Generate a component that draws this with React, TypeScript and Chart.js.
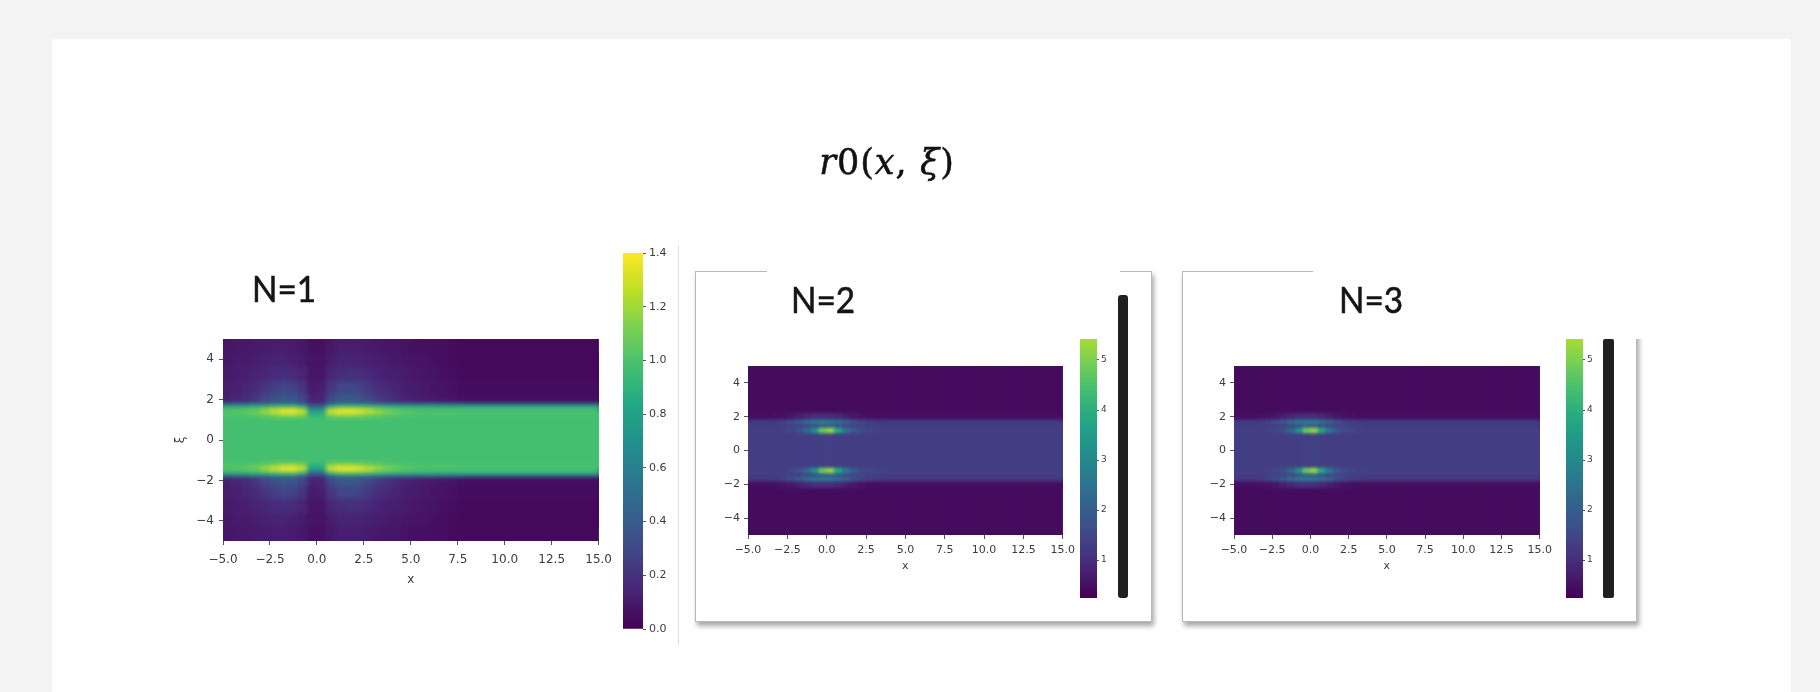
import React, { useEffect, useRef } from 'react';
import { Chart, registerables } from 'chart.js';

Chart.register(...registerables);

// ---------- data ----------
const X_CENTERS = [-4.75, -4.25, -3.75, -3.25, -2.75, -2.25, -1.75, -1.25, -0.75, -0.25, 0.25, 0.75, 1.25, 1.75, 2.25, 2.75, 3.25, 3.75, 4.25, 4.75, 5.25, 5.75, 6.25, 6.75, 7.25, 7.75, 8.25, 8.75, 9.25, 9.75, 10.25, 10.75, 11.25, 11.75, 12.25, 12.75, 13.25, 13.75, 14.25, 14.75];
const X_TICKS = [-5, -2.5, 0, 2.5, 5, 7.5, 10, 12.5, 15];
const Y_TICKS = [-4, -2, 0, 2, 4];

// N=1 : symmetric in ξ; layer k covers |ξ| between N1_EDGES[k] and N1_EDGES[k+1]
const N1_EDGES = [0, 1.1, 1.28, 1.52, 1.68, 1.82, 2.3, 2.9, 3.6, 4.3, 5];
const N1_L0 = [0.98, 0.98, 0.98, 0.98, 0.98, 0.98, 0.98, 0.98, 0.98, 0.98, 0.98, 0.98, 0.98, 0.98, 0.98, 0.98, 0.98, 0.98, 0.98, 0.98, 0.98, 0.98, 0.98, 0.98, 0.98, 0.98, 0.98, 0.98, 0.98, 0.98, 0.98, 0.98, 0.98, 0.98, 0.98, 0.98, 0.98, 0.98, 0.98, 0.98];
const N1_L1 = [1.0, 1.0, 1.0, 1.02, 1.05, 1.1, 1.15, 1.15, 1.1, 0.92, 0.92, 1.1, 1.15, 1.15, 1.12, 1.08, 1.05, 1.03, 1.01, 1.0, 0.99, 0.99, 0.99, 0.99, 0.99, 0.99, 0.99, 0.99, 0.99, 0.99, 0.99, 0.99, 0.99, 0.99, 0.99, 0.99, 0.99, 0.99, 0.99, 0.99];
const N1_L2 = [1.02, 1.03, 1.05, 1.1, 1.2, 1.3, 1.38, 1.4, 1.3, 0.8, 0.82, 1.32, 1.4, 1.4, 1.36, 1.28, 1.2, 1.12, 1.07, 1.04, 1.02, 1.01, 1.0, 1.0, 1.0, 0.99, 0.99, 0.99, 0.99, 0.99, 0.99, 0.99, 0.99, 0.99, 0.99, 0.99, 0.99, 0.99, 0.99, 0.99];
const N1_L3 = [0.92, 0.92, 0.93, 0.95, 1.0, 1.05, 1.1, 1.1, 0.95, 0.5, 0.52, 0.98, 1.1, 1.12, 1.1, 1.05, 1.0, 0.97, 0.94, 0.93, 0.92, 0.92, 0.92, 0.92, 0.92, 0.92, 0.92, 0.92, 0.92, 0.92, 0.92, 0.92, 0.92, 0.92, 0.92, 0.92, 0.92, 0.92, 0.92, 0.92];
const N1_L4 = [0.55, 0.55, 0.55, 0.56, 0.58, 0.6, 0.62, 0.6, 0.5, 0.25, 0.27, 0.52, 0.62, 0.63, 0.62, 0.6, 0.58, 0.56, 0.55, 0.55, 0.55, 0.55, 0.55, 0.55, 0.55, 0.55, 0.55, 0.55, 0.55, 0.55, 0.55, 0.55, 0.55, 0.55, 0.55, 0.55, 0.55, 0.55, 0.55, 0.55];
const N1_L5 = [0.12, 0.14, 0.17, 0.22, 0.28, 0.33, 0.37, 0.36, 0.28, 0.13, 0.14, 0.3, 0.37, 0.38, 0.35, 0.3, 0.24, 0.2, 0.16, 0.13, 0.11, 0.1, 0.09, 0.08, 0.07, 0.05, 0.05, 0.05, 0.05, 0.05, 0.05, 0.05, 0.05, 0.05, 0.05, 0.05, 0.05, 0.05, 0.05, 0.05];
const N1_L6 = [0.11, 0.12, 0.14, 0.17, 0.21, 0.25, 0.28, 0.27, 0.21, 0.1, 0.11, 0.22, 0.28, 0.29, 0.27, 0.23, 0.19, 0.16, 0.13, 0.11, 0.1, 0.09, 0.08, 0.07, 0.06, 0.04, 0.04, 0.04, 0.04, 0.04, 0.04, 0.04, 0.04, 0.04, 0.04, 0.04, 0.04, 0.04, 0.04, 0.04];
const N1_L7 = [0.1, 0.11, 0.12, 0.13, 0.15, 0.17, 0.18, 0.17, 0.14, 0.08, 0.08, 0.15, 0.18, 0.19, 0.18, 0.16, 0.14, 0.12, 0.11, 0.1, 0.09, 0.08, 0.07, 0.06, 0.05, 0.035, 0.035, 0.035, 0.035, 0.035, 0.035, 0.035, 0.035, 0.035, 0.035, 0.035, 0.035, 0.035, 0.035, 0.035];
const N1_L8 = [0.09, 0.1, 0.1, 0.11, 0.12, 0.13, 0.13, 0.12, 0.1, 0.07, 0.07, 0.11, 0.13, 0.14, 0.13, 0.12, 0.11, 0.1, 0.09, 0.08, 0.07, 0.07, 0.06, 0.05, 0.04, 0.03, 0.03, 0.03, 0.03, 0.03, 0.03, 0.03, 0.03, 0.03, 0.03, 0.03, 0.03, 0.03, 0.03, 0.03];
const N1_L9 = [0.08, 0.09, 0.09, 0.1, 0.1, 0.11, 0.11, 0.1, 0.09, 0.06, 0.06, 0.09, 0.11, 0.11, 0.11, 0.1, 0.09, 0.08, 0.08, 0.07, 0.06, 0.06, 0.05, 0.05, 0.04, 0.03, 0.03, 0.03, 0.03, 0.03, 0.03, 0.03, 0.03, 0.03, 0.03, 0.03, 0.03, 0.03, 0.03, 0.03];
const N1_LAYERS = [N1_L0, N1_L1, N1_L2, N1_L3, N1_L4, N1_L5, N1_L6, N1_L7, N1_L8, N1_L9];

// N=2 and N=3 (they read the same)
const N2_EDGES = [0, 1.0, 1.32, 1.55, 1.82, 2.2, 5];
const N2_L0 = [1.3, 1.3, 1.3, 1.3, 1.3, 1.3, 1.3, 1.3, 1.32, 1.35, 1.35, 1.32, 1.3, 1.3, 1.3, 1.3, 1.3, 1.3, 1.3, 1.3, 1.3, 1.3, 1.3, 1.3, 1.3, 1.3, 1.3, 1.3, 1.3, 1.3, 1.3, 1.3, 1.3, 1.3, 1.3, 1.3, 1.3, 1.3, 1.3, 1.3];
const N2_L1 = [1.3, 1.3, 1.3, 1.3, 1.35, 1.45, 1.7, 2.2, 3.2, 4.8, 5.2, 3.8, 2.6, 1.9, 1.6, 1.45, 1.38, 1.33, 1.3, 1.3, 1.3, 1.3, 1.3, 1.3, 1.3, 1.3, 1.3, 1.3, 1.3, 1.3, 1.3, 1.3, 1.3, 1.3, 1.3, 1.3, 1.3, 1.3, 1.3, 1.3];
const N2_L2 = [1.3, 1.3, 1.3, 1.3, 1.3, 1.35, 1.4, 1.5, 1.7, 1.9, 1.9, 1.7, 1.5, 1.4, 1.35, 1.3, 1.3, 1.3, 1.3, 1.3, 1.3, 1.3, 1.3, 1.3, 1.3, 1.3, 1.3, 1.3, 1.3, 1.3, 1.3, 1.3, 1.3, 1.3, 1.3, 1.3, 1.3, 1.3, 1.3, 1.3];
const N2_L3 = [1.2, 1.2, 1.2, 1.25, 1.4, 1.6, 1.9, 2.3, 2.6, 2.7, 2.6, 2.4, 2.1, 1.7, 1.45, 1.3, 1.25, 1.2, 1.2, 1.2, 1.2, 1.2, 1.2, 1.2, 1.2, 1.2, 1.2, 1.2, 1.2, 1.2, 1.2, 1.2, 1.2, 1.2, 1.2, 1.2, 1.2, 1.2, 1.2, 1.2];
const N2_L4 = [0.45, 0.45, 0.45, 0.48, 0.52, 0.6, 0.75, 0.9, 1.0, 1.0, 1.0, 0.9, 0.75, 0.6, 0.52, 0.48, 0.45, 0.45, 0.45, 0.45, 0.45, 0.45, 0.45, 0.45, 0.45, 0.45, 0.45, 0.45, 0.45, 0.45, 0.45, 0.45, 0.45, 0.45, 0.45, 0.45, 0.45, 0.45, 0.45, 0.45];
const N2_L5 = [0.42, 0.42, 0.42, 0.42, 0.42, 0.42, 0.42, 0.42, 0.42, 0.42, 0.42, 0.42, 0.42, 0.42, 0.42, 0.42, 0.42, 0.42, 0.42, 0.42, 0.42, 0.42, 0.42, 0.42, 0.42, 0.42, 0.42, 0.42, 0.42, 0.42, 0.42, 0.42, 0.42, 0.42, 0.42, 0.42, 0.42, 0.42, 0.42, 0.42];
const N2_LAYERS = [N2_L0, N2_L1, N2_L2, N2_L3, N2_L4, N2_L5];

const CB1_RANGE = [0, 1.4];
const CB1_TICKS = [0, 0.2, 0.4, 0.6, 0.8, 1.0, 1.2, 1.4];
const CB2_RANGE = [0.24, 5.42];
const CB2_TICKS = [1, 2, 3, 4, 5];

// ---------- colour ----------
const VIRIDIS = ['#440154', '#482475', '#414487', '#355f8d', '#2a788e', '#21918c', '#22a884', '#44bf70', '#7ad151', '#bddf26', '#fde725'];
function hexRgb(h: string) {
  return [parseInt(h.slice(1, 3), 16), parseInt(h.slice(3, 5), 16), parseInt(h.slice(5, 7), 16)];
}
const VIR_RGB = VIRIDIS.map(hexRgb);
function viridis(t: number) {
  const c = Math.max(0, Math.min(1, t)) * 10;
  const i = Math.min(9, Math.floor(c));
  const f = c - i;
  const a = VIR_RGB[i], b = VIR_RGB[i + 1];
  const r = a.map((v, k) => Math.round(v + (b[k] - v) * f));
  return `rgb(${r[0]},${r[1]},${r[2]})`;
}
const n1T = (v: number) => v / 1.4;
const n2T = (v: number) => (v - 0.24) / 5.95;

const FONT = 'DejaVu Sans';
const TXT = '#3c3c3c';
const minus = (s: string) => s.replace('-', '\u2212');

// softening of the cell grid (image-like rendering)
const smoothPlugin = {
  id: 'smooth',
  afterDatasetsDraw(chart: any, _args: any, opts: any) {
    const r = opts && opts.radius;
    if (!r) return;
    const a = chart.chartArea;
    const x = Math.round(a.left), y = Math.round(a.top);
    const w = Math.round(a.right - a.left), h = Math.round(a.bottom - a.top);
    const p = Math.ceil(r * 3);
    const off = document.createElement('canvas');
    off.width = w + 2 * p;
    off.height = h + 2 * p;
    const o = off.getContext('2d')!;
    o.drawImage(chart.canvas, x, y, w, h, p, p, w, h);
    o.drawImage(off, p, p, w, 1, p, 0, w, p);
    o.drawImage(off, p, p + h - 1, w, 1, p, p + h, w, p);
    o.drawImage(off, p, 0, 1, h + 2 * p, 0, 0, p, h + 2 * p);
    o.drawImage(off, p + w - 1, 0, 1, h + 2 * p, p + w, 0, p, h + 2 * p);
    const ctx = chart.ctx;
    ctx.save();
    ctx.setTransform(1, 0, 0, 1, 0, 0);
    ctx.beginPath();
    ctx.rect(x, y, w, h);
    ctx.clip();
    ctx.filter = `blur(${r}px)`;
    ctx.drawImage(off, x - p, y - p);
    ctx.restore();
  },
};

// each layer is one floating bar per column spanning [-outer, +outer]; inner layers sit on top (index 0 drawn last)
function heatDatasets(edges: number[], layers: number[][], toT: (v: number) => number) {
  return layers.map((vals, k) => {
    const hi = edges[k + 1];
    return {
      grouped: false, barPercentage: 1, categoryPercentage: 1, borderWidth: 0, xAxisID: 'x', yAxisID: 'y',
      backgroundColor: vals.map((v) => viridis(toT(v))),
      data: vals.map(() => [-hi, hi]),
    };
  });
}

function heatConfig(p: any) {
  return {
    type: 'bar',
    data: { labels: X_CENTERS.map(String), datasets: heatDatasets(p.edges, p.layers, p.toT) },
    plugins: [smoothPlugin],
    options: {
      animation: false,
      responsive: false,
      events: [],
      layout: { padding: p.padding },
      plugins: { legend: { display: false }, tooltip: { enabled: false }, smooth: { radius: p.blur } },
      scales: {
        x: { type: 'category', display: false },
        xt: {
          type: 'linear', position: 'bottom', min: -5, max: 15, offset: false,
          afterBuildTicks: (s: any) => { s.ticks = X_TICKS.map((v) => ({ value: v })); },
          ticks: { callback: (v: any) => minus(Number(v).toFixed(1)), font: { family: FONT, size: p.fs }, color: TXT, padding: p.xPad, maxRotation: 0, autoSkip: false },
          grid: { drawOnChartArea: false, drawTicks: true, tickLength: 4, color: '#555', offset: false },
          border: { display: false },
          title: { display: true, text: 'x', font: { family: FONT, size: p.fs }, color: TXT, padding: { top: 2, bottom: p.xTitleBottom } },
          afterFit: (s: any) => { s.height = p.xHeight; },
        },
        y: {
          type: 'linear', position: 'left', min: -5, max: 5, offset: false,
          afterBuildTicks: (s: any) => { s.ticks = Y_TICKS.map((v) => ({ value: v })); },
          ticks: { callback: (v: any) => minus(String(v)), font: { family: FONT, size: p.fs }, color: TXT, padding: p.yPad },
          grid: { drawOnChartArea: false, drawTicks: true, tickLength: 4, color: '#555' },
          border: { display: false },
          title: { display: !!p.yTitle, text: p.yTitle || '', font: { family: FONT, size: p.fs }, color: TXT, padding: { top: 2, bottom: 2 } },
          afterFit: (s: any) => { s.width = p.yWidth; },
        },
      },
    },
  };
}

function colorbarConfig(p: any) {
  const [lo, hi] = p.range;
  return {
    type: 'bar',
    data: {
      labels: [''],
      datasets: [{
        data: [[lo, hi]],
        barPercentage: 1, categoryPercentage: 1, borderWidth: 0, xAxisID: 'x', yAxisID: 'y',
        backgroundColor: (ctx: any) => {
          const c = ctx.chart;
          if (!c.chartArea) return VIRIDIS[0];
          const ys = c.scales.y;
          const g = c.ctx.createLinearGradient(0, ys.getPixelForValue(lo), 0, ys.getPixelForValue(hi));
          for (let i = 0; i <= 20; i++) {
            const f = i / 20;
            g.addColorStop(f, viridis(p.toT(lo + f * (hi - lo))));
          }
          return g;
        },
      }],
    },
    options: {
      animation: false,
      responsive: false,
      events: [],
      layout: { padding: p.padding },
      plugins: { legend: { display: false }, tooltip: { enabled: false } },
      scales: {
        x: { display: false },
        y: {
          position: 'right', min: lo, max: hi,
          afterBuildTicks: (s: any) => { s.ticks = p.ticks.map((v: number) => ({ value: v })); },
          ticks: { callback: (v: any) => p.fmt(Number(v)), font: { family: FONT, size: p.fs }, color: TXT, padding: p.pad },
          grid: { drawOnChartArea: false, drawTicks: true, tickLength: p.tl, color: '#555' },
          border: { display: false },
          afterFit: (s: any) => { s.width = p.width; },
        },
      },
    },
  };
}

function ChartCanvas({ make, left, top, width, height }: any) {
  const ref = useRef<HTMLCanvasElement>(null);
  useEffect(() => {
    const chart = new Chart(ref.current as HTMLCanvasElement, make() as any);
    return () => chart.destroy();
  }, []);
  return <canvas ref={ref} width={width} height={height} style={{ position: 'absolute', left, top, width, height }} />;
}

const abs = (s: any) => ({ position: 'absolute' as const, ...s });

function NLabel({ text, cx, top }: any) {
  return (
    <div style={abs({ left: cx - 80, top, width: 160, textAlign: 'center', fontFamily: 'Lato, sans-serif', fontSize: 37, lineHeight: '37px', color: '#151515', transform: 'scaleX(0.9)', WebkitTextStroke: '0.6px #151515' })}>{text}</div>
  );
}

function Frame({ left, top, width, height }: any) {
  return <div style={abs({ left, top, width, height, border: '1px solid #b8b8b8', boxShadow: '2px 4px 5px rgba(0,0,0,0.35)', background: '#fff', boxSizing: 'border-box' })} />;
}

export default function App() {
  return (
    <div style={abs({ left: 0, top: 0, width: 1820, height: 692, background: '#f3f3f3', overflow: 'hidden' })}>
      <div style={abs({ left: 52, top: 39, width: 1739, height: 660, background: '#ffffff' })} />
      <div style={abs({ left: 0, top: 0, width: 1820, height: 692, filter: 'blur(0.5px)' })}>
        {/* title */}
        <div style={abs({ left: 687, top: 145, width: 400, textAlign: 'center', fontFamily: '"DejaVu Serif", serif', fontSize: 35, lineHeight: '35px', color: '#111', letterSpacing: 1, WebkitTextStroke: '0.5px #111' })}>
          <i>r</i>0(<i>x</i>, <i>ξ</i>)
        </div>

        {/* frames of panel 2 and 3 */}
        <Frame left={695} top={271} width={457} height={351} />
        <div style={abs({ left: 767, top: 268, width: 353, height: 6, background: '#fff' })} />
        <Frame left={1182} top={271} width={455} height={351} />
        <div style={abs({ left: 1313, top: 266, width: 340, height: 8, background: '#fff' })} />
        <div style={abs({ left: 1632, top: 266, width: 20, height: 73, background: '#fff' })} />

        {/* separator line at right of panel 1 */}
        <div style={abs({ left: 678, top: 245, width: 1, height: 400, background: '#dedede' })} />

        {/* black bars */}
        <div style={abs({ left: 1118, top: 295, width: 10, height: 303, background: '#202020', borderRadius: 3 })} />
        <div style={abs({ left: 1603, top: 339, width: 11, height: 259, background: '#202020', borderRadius: 2 })} />

        <NLabel text="N=1" cx={284} top={269} />
        <NLabel text="N=2" cx={823} top={280} />
        <NLabel text="N=3" cx={1371} top={280} />

        <ChartCanvas left={150} top={320} width={470} height={270} make={() => heatConfig({
          edges: N1_EDGES, layers: N1_LAYERS, toT: n1T, yTitle: 'ξ', fs: 12, blur: 2,
          padding: { left: 22, top: 19, right: 19, bottom: 0 }, yWidth: 51, xHeight: 49, xPad: 8, yPad: 5, xTitleBottom: 3,
        })} />
        <ChartCanvas left={613} top={240} width={70} height={400} make={() => colorbarConfig({
          range: CB1_RANGE, ticks: CB1_TICKS, toT: n1T, fmt: (v: number) => v.toFixed(1), fs: 11, pad: 3, tl: 3, width: 40,
          padding: { left: 10, top: 13, right: 0, bottom: 11 },
        })} />

        <ChartCanvas left={700} top={350} width={380} height={225} make={() => heatConfig({
          edges: N2_EDGES, layers: N2_LAYERS, toT: n2T, yTitle: '', fs: 11, blur: 1.6,
          padding: { left: 0, top: 16, right: 17, bottom: 0 }, yWidth: 48, xHeight: 40, xPad: 5, yPad: 4, xTitleBottom: 2,
        })} />
        <ChartCanvas left={1072} top={330} width={45} height={280} make={() => colorbarConfig({
          range: CB2_RANGE, ticks: CB2_TICKS, toT: n2T, fmt: (v: number) => String(v), fs: 9, pad: 2, tl: 2, width: 20,
          padding: { left: 8, top: 9, right: 0, bottom: 12 },
        })} />

        <ChartCanvas left={1186} top={350} width={371} height={225} make={() => heatConfig({
          edges: N2_EDGES, layers: N2_LAYERS, toT: n2T, yTitle: '', fs: 11, blur: 1.6,
          padding: { left: 0, top: 16, right: 10, bottom: 0 }, yWidth: 48, xHeight: 40, xPad: 5, yPad: 4, xTitleBottom: 2,
        })} />
        <ChartCanvas left={1558} top={330} width={45} height={280} make={() => colorbarConfig({
          range: CB2_RANGE, ticks: CB2_TICKS, toT: n2T, fmt: (v: number) => String(v), fs: 9, pad: 2, tl: 2, width: 20,
          padding: { left: 8, top: 9, right: 0, bottom: 12 },
        })} />
      </div>
    </div>
  );
}
